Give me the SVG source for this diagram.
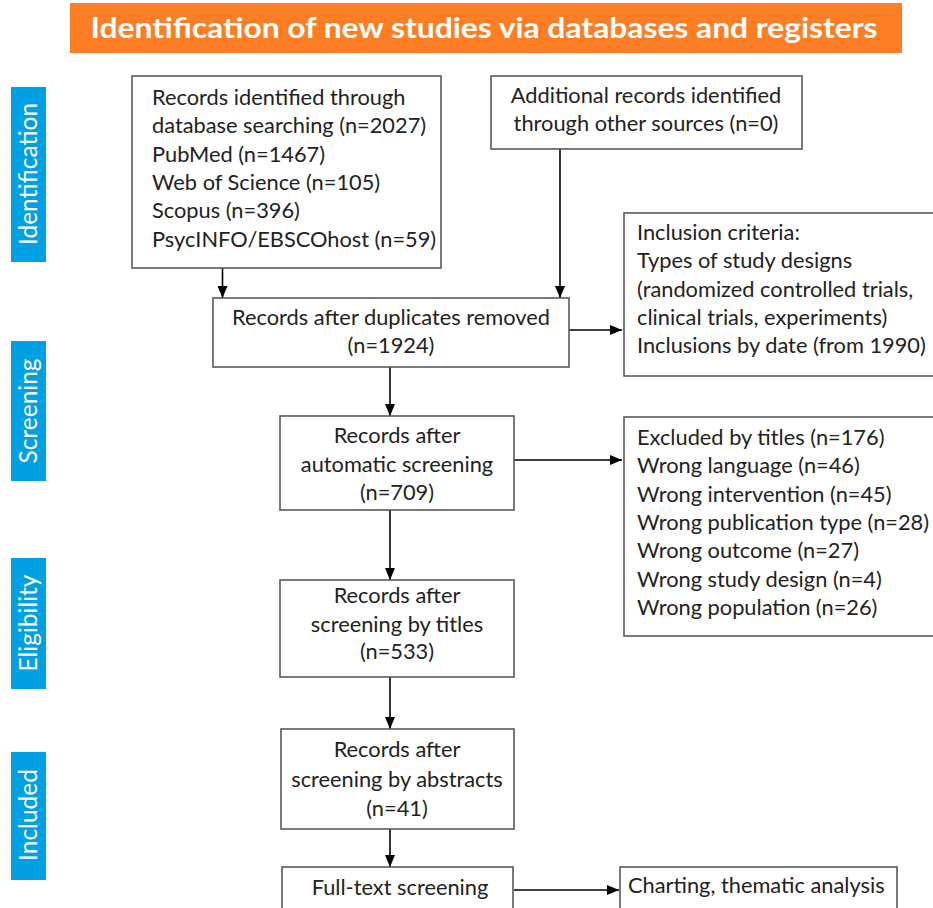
<svg xmlns="http://www.w3.org/2000/svg" width="933" height="908" viewBox="0 0 933 908">
<defs>
<marker id="ah" markerUnits="userSpaceOnUse" markerWidth="12" markerHeight="10" refX="12" refY="5" orient="auto">
<path d="M0,0 L12,5 L0,10 Z" fill="#000"/>
</marker>
<style>
.box{fill:#fff;stroke:#595959;stroke-width:1.6}
.t{font-family:Lato,"Open Sans","Liberation Sans",sans-serif;font-size:21.8px;fill:#222}
.c{text-anchor:middle}
.side{fill:#00A0E3}
.st{font-family:Lato,"Open Sans","Liberation Sans",sans-serif;font-size:24.5px;fill:#fff;text-anchor:middle}
.conn{stroke:#000;stroke-width:1.6;fill:none;marker-end:url(#ah)}
</style>
</defs>
<rect width="933" height="908" fill="#fff"/>
<g id="header">
<rect x="70" y="3" width="832" height="50" fill="#FD7E24"/>
<text x="484" y="38" text-anchor="middle" font-family="Lato,'Open Sans','Liberation Sans',sans-serif" font-weight="bold" font-size="29" fill="#fff" textLength="787" lengthAdjust="spacingAndGlyphs">Identification of new studies via databases and registers</text>
</g>
<g id="stage-identification">
<rect class="side" x="11" y="87" width="35" height="175"/>
<text class="st" transform="translate(37,174) rotate(-90)">Identification</text>
</g>
<g id="stage-screening">
<rect class="side" x="11" y="341" width="35" height="140"/>
<text class="st" transform="translate(37,411) rotate(-90)">Screening</text>
</g>
<g id="stage-eligibility">
<rect class="side" x="11" y="558" width="35" height="131"/>
<text class="st" transform="translate(37,623) rotate(-90)">Eligibility</text>
</g>
<g id="stage-included">
<rect class="side" x="11" y="752" width="35" height="128"/>
<text class="st" transform="translate(37,815) rotate(-90)">Included</text>
</g>
<g id="connectors">
<line class="conn" x1="222.5" y1="268" x2="222.5" y2="298"/>
<line class="conn" x1="560" y1="149" x2="560" y2="298"/>
<line class="conn" x1="569" y1="330" x2="622" y2="330"/>
<line class="conn" x1="390" y1="367" x2="390" y2="416"/>
<line class="conn" x1="514" y1="460" x2="622" y2="460"/>
<line class="conn" x1="390" y1="510" x2="390" y2="580"/>
<line class="conn" x1="390" y1="677" x2="390" y2="729"/>
<line class="conn" x1="390" y1="829" x2="390" y2="867"/>
<line class="conn" x1="514" y1="890" x2="619" y2="890"/>
</g>
<g id="n-db">
<rect class="box" x="132" y="76" width="309" height="192"/>
<text class="t" x="152" y="105">Records identified through</text>
<text class="t" x="152" y="133.3">database searching (n=2027)</text>
<text class="t" x="152" y="161.7">PubMed (n=1467)</text>
<text class="t" x="152" y="190">Web of Science (n=105)</text>
<text class="t" x="152" y="218.3">Scopus (n=396)</text>
<text class="t" x="152" y="246.7">PsycINFO/EBSCOhost (n=59)</text>
</g>
<g id="n-other">
<rect class="box" x="491" y="76" width="311" height="73"/>
<text class="t c" x="646" y="103.3">Additional records identified</text>
<text class="t c" x="646" y="131">through other sources (n=0)</text>
</g>
<g id="n-dup">
<rect class="box" x="213" y="298" width="356" height="69"/>
<text class="t c" x="391" y="325">Records after duplicates removed</text>
<text class="t c" x="391" y="353.3">(n=1924)</text>
</g>
<g id="n-incl">
<rect class="box" x="624" y="213" width="312" height="163"/>
<text class="t" x="637" y="240">Inclusion criteria:</text>
<text class="t" x="637" y="268.3">Types of study designs</text>
<text class="t" x="637" y="296.7">(randomized controlled trials,</text>
<text class="t" x="637" y="325">clinical trials, experiments)</text>
<text class="t" x="637" y="353.3">Inclusions by date (from 1990)</text>
</g>
<g id="n-auto">
<rect class="box" x="280" y="416" width="234" height="94"/>
<text class="t c" x="397" y="442.7">Records after</text>
<text class="t c" x="397" y="471.7">automatic screening</text>
<text class="t c" x="397" y="500">(n=709)</text>
</g>
<g id="n-excl">
<rect class="box" x="624" y="417" width="312" height="219"/>
<text class="t" x="637" y="445">Excluded by titles (n=176)</text>
<text class="t" x="637" y="473.3">Wrong language (n=46)</text>
<text class="t" x="637" y="501.7">Wrong intervention (n=45)</text>
<text class="t" x="637" y="530">Wrong publication type (n=28)</text>
<text class="t" x="637" y="558.3">Wrong outcome (n=27)</text>
<text class="t" x="637" y="586.7">Wrong study design (n=4)</text>
<text class="t" x="637" y="615">Wrong population (n=26)</text>
</g>
<g id="n-titles">
<rect class="box" x="280" y="580" width="234" height="97"/>
<text class="t c" x="397" y="603.3">Records after</text>
<text class="t c" x="397" y="631.7">screening by titles</text>
<text class="t c" x="397" y="659.3">(n=533)</text>
</g>
<g id="n-abstracts">
<rect class="box" x="281" y="729" width="233" height="100"/>
<text class="t c" x="397" y="757.3">Records after</text>
<text class="t c" x="397" y="786.7">screening by abstracts</text>
<text class="t c" x="397" y="815.7">(n=41)</text>
</g>
<g id="n-fulltext">
<rect class="box" x="282" y="867" width="231" height="60"/>
<text class="t c" x="400" y="895">Full-text screening</text>
</g>
<g id="n-charting">
<rect class="box" x="620" y="867" width="277" height="60"/>
<text class="t" x="628" y="893.3">Charting, thematic analysis</text>
</g>
</svg>
